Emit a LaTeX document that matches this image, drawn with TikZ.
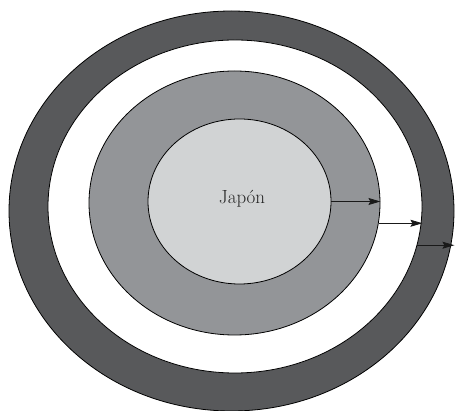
\documentclass[tikz,border=0pt]{standalone}
\usepackage{xcolor}
\usepackage{tikz}
\usetikzlibrary{shapes.geometric, arrows.meta, positioning, calc}

\definecolor{ringdark}{HTML}{58595B}
\definecolor{ringmid}{HTML}{939598}
\definecolor{ringlight}{HTML}{D1D3D4}

\begin{document}
\begin{tikzpicture}[
    x=1pt, y=-1pt,
    zone/.style={ellipse, draw=black, line width=0.8pt, inner sep=0pt},
    expansion/.style={-{Stealth[length=12pt, width=7pt, inset=2pt]}, line width=0.8pt, draw=black!90}
]
    \useasboundingbox (0,0) rectangle (455,411);

    % --- Rings (outer to inner) ---
    \node[zone, fill=ringdark, minimum width=445pt, minimum height=400pt] (outer) at (231.5,211) {};
    \node[zone, fill=white, minimum width=374pt, minimum height=333pt] (gap) at (235,206.5) {};
    \node[zone, fill=ringmid, minimum width=291pt, minimum height=264pt] (middle) at (234.5,203) {};
    \node[zone, fill=ringlight, minimum width=183pt, minimum height=165pt] (japan) at (239.5,201.5) {};
    \node[font=\fontsize{19}{22}\selectfont, text=black!85] (japanlabel) at (242,199) {Jap\'on};

    % --- Outward arrows ---
    \draw[expansion] (japan.east) -- (japan.east -| middle.east);
    \draw[expansion] (middle.-8.3) -- (middle.-8.3 -| gap.east);
    \draw[expansion] (gap.-12) -- (gap.-12 -| outer.east);

\end{tikzpicture}
\end{document}
